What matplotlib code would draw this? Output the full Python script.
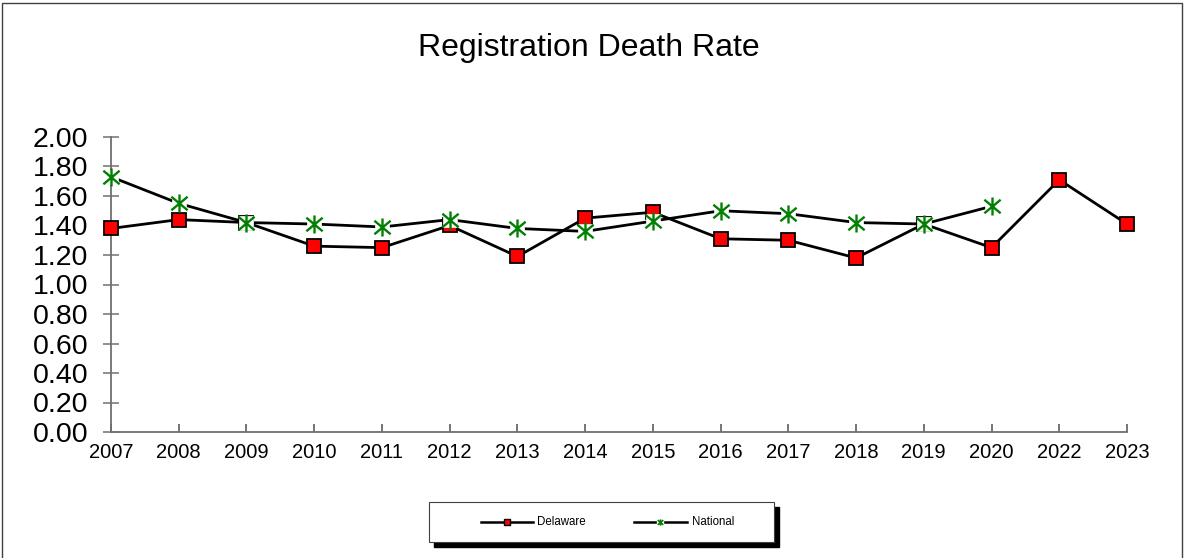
import matplotlib
matplotlib.use("Agg")
import matplotlib.pyplot as plt
from matplotlib.lines import Line2D
from matplotlib.patches import Rectangle
from matplotlib.path import Path

plt.rcParams['font.family'] = ['Liberation Sans', 'DejaVu Sans']

years = ['2007', '2008', '2009', '2010', '2011', '2012', '2013', '2014',
         '2015', '2016', '2017', '2018', '2019', '2020', '2022', '2023']
delaware = [1.38, 1.44, 1.42, 1.26, 1.25, 1.40, 1.19, 1.45,
            1.49, 1.31, 1.30, 1.18, 1.41, 1.25, 1.71, 1.41]
national = [1.73, 1.55, 1.42, 1.41, 1.39, 1.44, 1.38, 1.36,
            1.43, 1.50, 1.48, 1.42, 1.41, 1.53]
yticks = [0.0, 0.2, 0.4, 0.6, 0.8, 1.0, 1.2, 1.4, 1.6, 1.8, 2.0]

# asterisk marker: vertical stroke plus an X
star = Path([(0, -1), (0, 1), (-0.9, -0.75), (0.9, 0.75), (-0.9, 0.75), (0.9, -0.75)],
            [Path.MOVETO, Path.LINETO, Path.MOVETO, Path.LINETO, Path.MOVETO, Path.LINETO])

W, H = 1184, 558
fig = plt.figure(figsize=(W / 100, H / 100), dpi=100)
ax = fig.add_axes([111 / W, 1 - 432 / H, (1127 - 111) / W, (432 - 137) / H])

x = list(range(len(years)))
xn = x[:len(national)]

ax.plot(x, delaware, color='black', lw=2.0, zorder=3, clip_on=False)
ax.plot(x, delaware, ls='none', marker='s', ms=9.5, mfc='#ff0000', mec='black',
        mew=1.3, zorder=4, clip_on=False)
ax.plot(xn, national, color='black', lw=2.0, zorder=5, clip_on=False)
ax.plot(xn, national, ls='none', marker='s', ms=10.5, mfc='white', mec='white',
        mew=0.5, zorder=6, clip_on=False)
ax.plot(xn, national, ls='none', marker=star, ms=13, mec='#008000',
        mew=1.7, zorder=7, clip_on=False)

ax.set_xlim(0, len(years) - 1)
ax.set_ylim(0, 2.0)
ax.set_xticks(x)
ax.set_xticklabels(years, fontsize=14.5)
ax.set_yticks(yticks)
ax.set_yticklabels(['%.2f' % v for v in yticks], fontsize=20.5)

for s in ['top', 'right']:
    ax.spines[s].set_visible(False)
for s in ['left', 'bottom']:
    ax.spines[s].set_color('#707070')
    ax.spines[s].set_linewidth(1.3)
ax.tick_params(axis='y', direction='inout', length=11, width=1.1, color='#707070', pad=11)
ax.tick_params(axis='x', direction='in', length=5.5, width=1.1, color='#505050', pad=8)

fig.text(589 / W, 1 - 48 / H, 'Registration Death Rate', ha='center', va='center',
         fontsize=23)

# legend (drawn manually)
def fx(px):
    return px / W

def fy(py):
    return 1 - py / H

fig.add_artist(Rectangle((fx(434), fy(547)), fx(779) - fx(434), fy(507) - fy(547),
                         transform=fig.transFigure, facecolor='black', edgecolor='black'))
fig.add_artist(Rectangle((fx(429), fy(542)), fx(774) - fx(429), fy(502) - fy(542),
                         transform=fig.transFigure, facecolor='white', edgecolor='#404040',
                         lw=0.8))
ly = fy(522)
fig.add_artist(Line2D([fx(481), fx(533)], [ly, ly], transform=fig.transFigure,
                      color='black', lw=1.8))
fig.add_artist(Line2D([fx(507)], [ly], transform=fig.transFigure, marker='s', ms=5,
                      mfc='#ff0000', mec='black', mew=1.0, ls='none'))
fig.text(fx(537), ly, 'Delaware', fontsize=8.3, va='center', ha='left')
fig.add_artist(Line2D([fx(634), fx(687)], [ly, ly], transform=fig.transFigure,
                      color='black', lw=1.8))
fig.add_artist(Line2D([fx(660)], [ly], transform=fig.transFigure, marker='s', ms=5,
                      mfc='white', mec='white', ls='none'))
fig.add_artist(Line2D([fx(660)], [ly], transform=fig.transFigure, marker=star, ms=4.5,
                      mec='#008000', mew=1.2, ls='none'))
fig.text(fx(692), ly, 'National', fontsize=8.3, va='center', ha='left')

# outer frame
fig.add_artist(Rectangle((fx(2), fy(565)), fx(1182) - fx(2), fy(3) - fy(565),
                         transform=fig.transFigure, facecolor='none', edgecolor='#404040',
                         lw=1.0))

fig.savefig('out.png', dpi=100)
